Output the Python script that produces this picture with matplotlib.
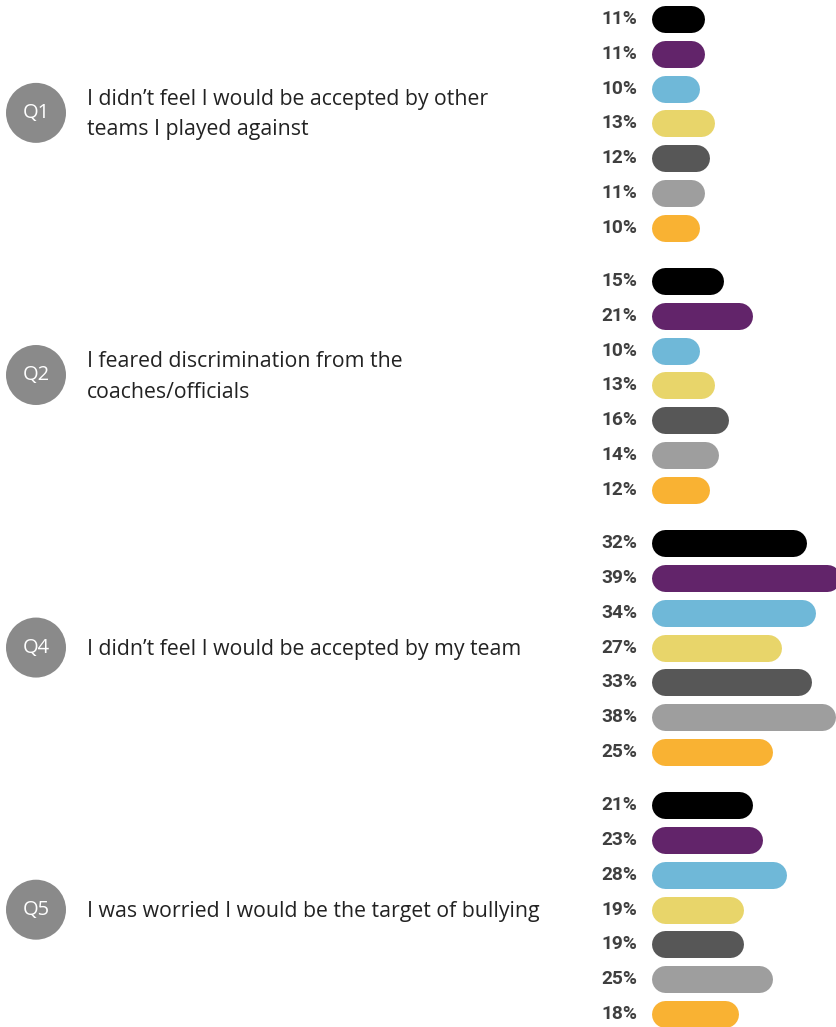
import matplotlib
matplotlib.use("Agg")
import matplotlib.pyplot as plt

# Survey answers, one list per question, seven respondent groups each
questions = ["Q1", "Q2", "Q4", "Q5"]
question_text = [
    "I didn\u2019t feel I would be accepted by other\nteams I played against",
    "I feared discrimination from the\ncoaches/officials",
    "I didn\u2019t feel I would be accepted by my team",
    "I was worried I would be the target of bullying",
]
q1_values = [11, 11, 10, 13, 12, 11, 10]
q2_values = [15, 21, 10, 13, 16, 14, 12]
q4_values = [32, 39, 34, 27, 33, 38, 25]
q5_values = [21, 23, 28, 19, 19, 25, 18]
all_values = [q1_values, q2_values, q4_values, q5_values]

group_colors = ["#000000", "#62246a", "#6fb8d8", "#e8d56a",
                "#575757", "#9e9e9e", "#f9b233"]

W, H, DPI = 836, 1027, 100
fig = plt.figure(figsize=(W / DPI, H / DPI), dpi=DPI)

PITCH = 34.75          # px per bar row
GAP = 0.54             # extra rows between questions
BAR_H = 27             # px
PX_PER_PCT = 4.85
bar_left = 651

# bar panel runs from the bar start to the right edge
ax = fig.add_axes([bar_left / W, 0, 1 - bar_left / W, 1])
ax.set_xlim(0, (W - bar_left) / PX_PER_PCT)
top = -19 / PITCH
n_rows = len(questions) * 7 + (len(questions) - 1) * GAP - 1
ax.set_ylim(n_rows + (H - 1014) / PITCH, top)
ax.axis("off")

# left panel for the question badges and wording
axl = fig.add_axes([0, 0, 600 / W, 1], sharey=ax)
axl.set_xlim(0, 600)
axl.axis("off")

lw_pt = BAR_H * 72 / DPI
cap = (BAR_H / 2) / PX_PER_PCT

for qi, vals in enumerate(all_values):
    base = qi * (7 + GAP)
    for j, v in enumerate(vals):
        y = base + j
        ax.plot([cap, v - cap], [y, y], color=group_colors[j], lw=lw_pt,
                solid_capstyle="round", clip_on=True)
        ax.annotate(f"{v}%", xy=(0, y), xytext=(-50 * 72 / DPI, 0),
                    textcoords="offset points", ha="left", va="center",
                    fontsize=13.8, fontweight="bold", family="Roboto",
                    color="#3f3f3f", annotation_clip=False)

    mid = base + 3
    if "\n" in question_text[qi]:
        mid -= 0.3
    axl.scatter([36], [mid], s=(60 * 72 / DPI) ** 2, color="#8a8a8a",
                edgecolors="none", zorder=2)
    axl.text(36, mid, questions[qi], ha="center", va="center",
             fontsize=14.5, color="white", family="Open Sans", zorder=3)
    axl.text(87, mid + 0.05, question_text[qi], ha="left", va="center",
             fontsize=15.3, color="#222222", family="Open Sans",
             linespacing=1.6)

fig.savefig("out.png", dpi=DPI)
